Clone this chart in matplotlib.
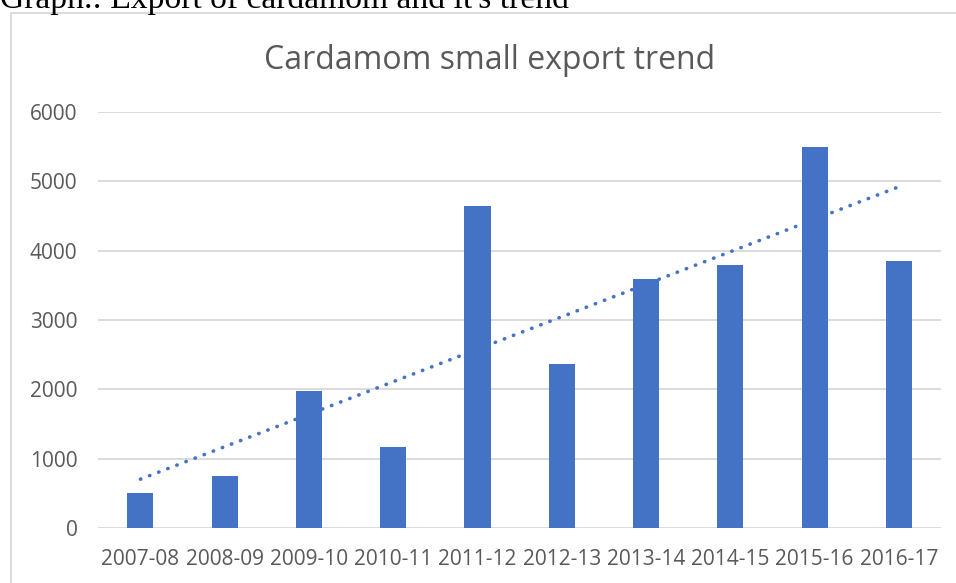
import numpy as np
import matplotlib
matplotlib.use("Agg")
import matplotlib.pyplot as plt
from matplotlib.patches import Rectangle

# export quantity per season
seasons = ["2007-08", "2008-09", "2009-10", "2010-11", "2011-12",
           "2012-13", "2013-14", "2014-15", "2015-16", "2016-17"]
exports = [500, 750, 1975, 1175, 4650, 2365, 3590, 3790, 5490, 3845]
y_ticks = [0, 1000, 2000, 3000, 4000, 5000, 6000]

BAR_COLOR = "#4472C4"
TEXT_COLOR = "#595959"
GRID_COLOR = "#D9D9D9"

W, H = 956, 583
fig = plt.figure(figsize=(W / 100, H / 100), dpi=100)

# caption above the chart box (partly cut off in the source)
fig.text(0.0, 1 - 8 / H, "Graph.: Export of cardamom and it's trend",
         family="Liberation Serif", fontsize=24.2, color="black",
         ha="left", va="baseline")

# chart box border (left + top visible)
fig.patches.append(Rectangle((10.5 / W, -0.1), 2.0, 1.1 - 13.5 / H,
                             transform=fig.transFigure, fill=False,
                             edgecolor=GRID_COLOR, linewidth=1.3))

ax = fig.add_axes([98.3 / W, 55 / H, (941 - 98.3) / W, (528 - 112) / H])
x = np.arange(len(seasons))
ax.bar(x, exports, width=0.31, color=BAR_COLOR, zorder=3)

# linear trendline, as in the spreadsheet chart
coef = np.polyfit(x, exports, 1)
ax.plot(x, np.polyval(coef, x), color=BAR_COLOR, linestyle=(0, (0.1, 2.6)),
        linewidth=2.6, dash_capstyle="round", zorder=4)

ax.set_xlim(-0.5, len(seasons) - 0.5)
ax.set_ylim(0, 6000)
ax.set_yticks(y_ticks)
ax.set_xticks(x)
ax.set_xticklabels(seasons)
ax.grid(True, axis="y", color=GRID_COLOR, linewidth=1.3, zorder=0)
for s in ax.spines.values():
    s.set_visible(False)
ax.tick_params(length=0, labelsize=15, labelcolor=TEXT_COLOR)
ax.tick_params(axis="y", pad=15)
ax.tick_params(axis="x", pad=15)
for lab in ax.get_xticklabels() + ax.get_yticklabels():
    lab.set_family("Open Sans")

fig.text(490 / W, 1 - 69 / H, "Cardamom small export trend",
         family="Open Sans", fontsize=23, color=TEXT_COLOR,
         ha="center", va="baseline")

fig.savefig("out.png", dpi=100)
